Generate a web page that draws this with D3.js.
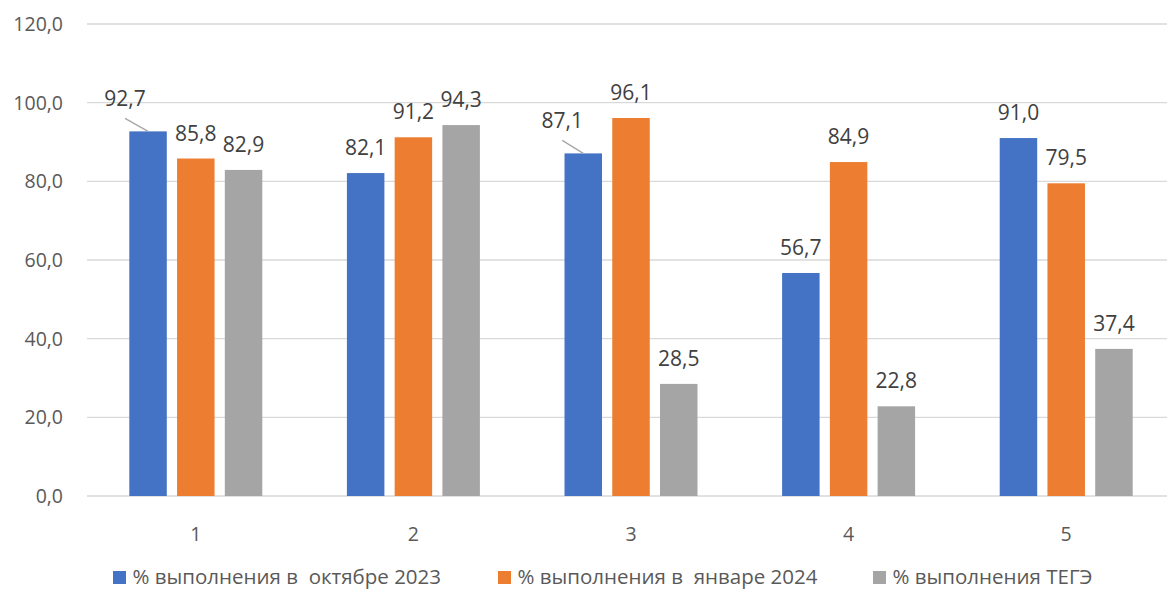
<!DOCTYPE html>
<html>
<head>
<meta charset="utf-8">
<script src="https://cdn.jsdelivr.net/npm/d3@7"></script>
<style>
body { margin: 0; background: #fff; }
text { font-family: "Open Sans", sans-serif; white-space: pre; }
</style>
</head>
<body>
<div class="chart"></div>
<script>
const categories = ['1', '2', '3', '4', '5']
const seriesNames = ['% выполнения в  октябре 2023', '% выполнения в  январе 2024', '% выполнения ТЕГЭ']
const october = [92.7, 82.1, 87.1, 56.7, 91.0]
const january = [85.8, 91.2, 96.1, 84.9, 79.5]
const tege = [82.9, 94.3, 28.5, 22.8, 37.4]
const yTicks = [0, 20, 40, 60, 80, 100, 120]

const colors = ['#4472C4', '#ED7D31', '#A5A5A5']
const values = [october, january, tege]

// labels that Excel nudged aside (with a leader line)
const moved = {'0-0': [-23, -7], '0-2': [-21, -7]}

const width = 1167, height = 590

const svg = d3.select('.chart').append('svg')
    .attr('width', width)
    .attr('height', height)

const x0 = d3.scaleBand()
    .domain(categories)
    .range([87, 1175])

const x1 = d3.scaleBand()
    .domain(d3.range(3))
    .range([0, x0.bandwidth()])
    .paddingInner(0.215)
    .paddingOuter(0.886)

const y = d3.scaleLinear()
    .domain([0, 120])
    .range([496, 24])

// gridlines
svg.selectAll('.grid')
    .data(yTicks)
    .enter()
    .append('line')
    .attr('x1', 87)
    .attr('x2', width)
    .attr('y1', d => y(d))
    .attr('y2', d => y(d))
    .attr('stroke', '#d9d9d9')
    .attr('stroke-width', 1.3)

svg.selectAll('.ytick')
    .data(yTicks)
    .enter()
    .append('text')
    .text(d => d3.format('.1f')(d).replace('.', ','))
    .attr('x', 63)
    .attr('y', d => y(d) + 7)
    .attr('font-size', 19.5)
    .attr('fill', '#595959')
    .attr('text-anchor', 'end')

svg.selectAll('.xtick')
    .data(categories)
    .enter()
    .append('text')
    .text(d => d)
    .attr('x', d => x0(d) + x0.bandwidth() / 2)
    .attr('y', 541)
    .attr('font-size', 19.5)
    .attr('fill', '#595959')
    .attr('text-anchor', 'middle')

const flat = []
values.forEach((arr, s) => arr.forEach((v, i) => flat.push({s, i, v})))

svg.selectAll('.bar')
    .data(flat)
    .enter()
    .append('rect')
    .attr('x', d => x0(categories[d.i]) + x1(d.s))
    .attr('y', d => y(d.v))
    .attr('width', x1.bandwidth())
    .attr('height', d => y(0) - y(d.v))
    .attr('fill', d => colors[d.s])

// leader lines
svg.selectAll('.leader')
    .data(flat.filter(d => moved[d.s + '-' + d.i]))
    .enter()
    .append('line')
    .attr('x1', d => x0(categories[d.i]) + x1(d.s) + x1.bandwidth() / 2)
    .attr('y1', d => y(d.v))
    .attr('x2', d => x0(categories[d.i]) + x1(d.s) + x1.bandwidth() / 2 + moved[d.s + '-' + d.i][0])
    .attr('y2', d => y(d.v) - 13)
    .attr('stroke', '#a6a6a6')
    .attr('stroke-width', 1.3)

svg.selectAll('.label')
    .data(flat)
    .enter()
    .append('text')
    .text(d => d3.format('.1f')(d.v).replace('.', ','))
    .attr('x', d => {
        const m = moved[d.s + '-' + d.i]
        return x0(categories[d.i]) + x1(d.s) + x1.bandwidth() / 2 + (m ? m[0] : 0)
    })
    .attr('y', d => {
        const m = moved[d.s + '-' + d.i]
        return y(d.v) - 18 + (m ? m[1] : 0)
    })
    .attr('font-size', 21)
    .attr('fill', '#404040')
    .attr('text-anchor', 'middle')

// legend
const legendX = [113, 498, 873]
const legend = svg.selectAll('.legend')
    .data(seriesNames)
    .enter()
    .append('g')
    .attr('transform', (d, i) => `translate(${legendX[i]},571)`)

legend.append('rect')
    .attr('width', 13)
    .attr('height', 13)
    .attr('fill', (d, i) => colors[i])

legend.append('text')
    .text(d => d)
    .attr('x', 19.5)
    .attr('y', 13)
    .attr('font-size', 20.5)
    .attr('fill', '#595959')
</script>
</body>
</html>
